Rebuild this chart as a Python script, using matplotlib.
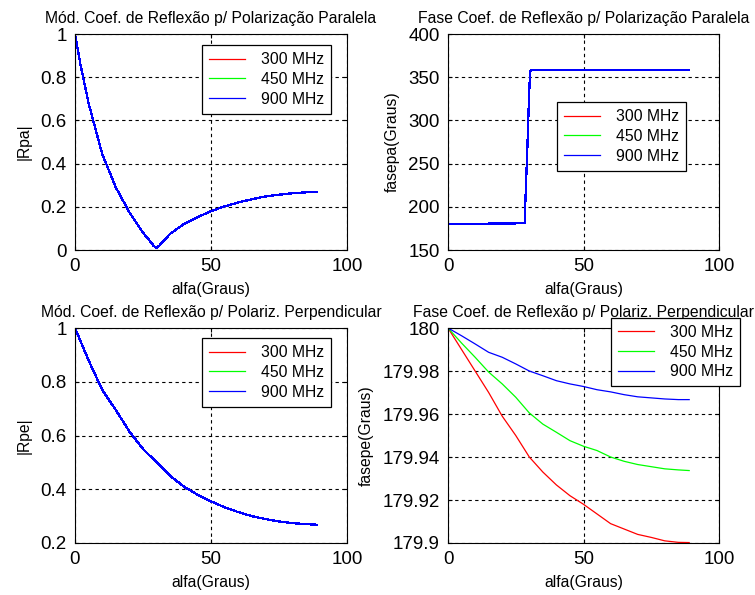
import matplotlib
matplotlib.use("Agg")
import matplotlib.pyplot as plt

plt.rcParams['font.family'] = ['Liberation Sans', 'DejaVu Sans']

freqs = ["300 MHz", "450 MHz", "900 MHz"]
colors = ["#ff0000", "#00ff00", "#0000ff"]

# |Rpa| - the three frequencies overlap
alfa_rpa = [0, 2, 5, 10, 15, 20, 25, 28, 29, 30, 31, 32, 35, 40, 45, 50, 55, 60, 65, 70, 75, 80, 85, 89]
rpa = [1.0, 0.86, 0.68, 0.445, 0.29, 0.175, 0.08, 0.035, 0.018, 0.01, 0.02, 0.035, 0.075, 0.12, 0.152, 0.18, 0.202, 0.22, 0.235, 0.248, 0.256, 0.263, 0.267, 0.268]

# fase Rpa (graus)
alfa_fpa = [0, 10, 20, 28.3, 28.6, 29.3, 29.9, 30.3, 31, 40, 50, 60, 70, 80, 89]
fpa = [180.5, 180.5, 180.6, 181, 211, 270, 328, 357, 358.7, 358.7, 358.7, 358.7, 358.7, 358.7, 358.7]

# |Rpe|
alfa_rpe = [0, 5, 10, 15, 20, 25, 30, 35, 40, 45, 50, 55, 60, 65, 70, 75, 80, 85, 89]
rpe = [1.0, 0.88, 0.77, 0.695, 0.615, 0.55, 0.5, 0.45, 0.41, 0.38, 0.355, 0.333, 0.315, 0.3, 0.289, 0.28, 0.274, 0.27, 0.268]

# fase Rpe (graus), one curve per frequency
alfa_fpe = [0, 5, 10, 15, 20, 25, 30, 35, 40, 45, 50, 55, 60, 65, 70, 75, 80, 85, 89]
fpe_300 = [180.0, 179.990, 179.980, 179.970, 179.959, 179.950, 179.940, 179.933, 179.927, 179.922,
           179.918, 179.9135, 179.909, 179.9065, 179.904, 179.9026, 179.901, 179.9003, 179.9002]
fpe_450 = [180.0, 179.993, 179.9864, 179.9795, 179.974, 179.9678, 179.9605, 179.9553, 179.9515, 179.9476,
           179.945, 179.943, 179.940, 179.938, 179.9365, 179.9355, 179.9345, 179.934, 179.9337]
fpe_900 = [180.0, 179.9964, 179.9926, 179.9887, 179.9864, 179.9833, 179.980, 179.9778, 179.9755, 179.974,
           179.9728, 179.9713, 179.9703, 179.969, 179.968, 179.9675, 179.967, 179.9667, 179.9667]

fig = plt.figure(figsize=(7.55, 5.95), dpi=100)
ax1 = fig.add_axes([0.0993, 0.5798, 0.3603, 0.3630])
ax2 = fig.add_axes([0.5934, 0.5798, 0.3589, 0.3630])
ax3 = fig.add_axes([0.0993, 0.0874, 0.3603, 0.3613])
ax4 = fig.add_axes([0.5934, 0.0874, 0.3589, 0.3613])

FS = 11.3
TFS = 13.5
LW = 0.9


def style(ax, title, ylabel, yticks, yticklabels, leg_xy):
    ax.set_xlim(0, 100)
    ax.set_xticks([0, 50, 100])
    ax.set_ylim(yticks[0], yticks[-1])
    ax.set_yticks(yticks)
    ax.set_yticklabels(yticklabels)
    ax.grid(True, color='black', linestyle=(0, (3, 3)), linewidth=0.8)
    ax.tick_params(direction='in', length=3, width=0.8, top=True, right=True,
                   labelsize=TFS, pad=6)
    for s in ax.spines.values():
        s.set_linewidth(0.8)
    ax.set_title(title, fontsize=FS, pad=8)
    ax.set_xlabel("alfa(Graus)", fontsize=FS, labelpad=5)
    ax.set_ylabel(ylabel, fontsize=FS, labelpad=6)
    leg = ax.legend(loc='upper left', bbox_to_anchor=leg_xy, borderaxespad=0,
                    fontsize=FS, fancybox=False, framealpha=1, edgecolor='black',
                    handlelength=2.3, handletextpad=1.0, labelspacing=0.3,
                    borderpad=0.45)
    leg.get_frame().set_linewidth(0.9)
    leg.set_zorder(5)


# MATLAB-like aliased lines, so overlapping curves show only the last colour
for f, c in zip(freqs, colors):
    ax1.plot(alfa_rpa, rpa, color=c, linewidth=LW, label=f, antialiased=False)
    ax2.plot(alfa_fpa, fpa, color=c, linewidth=LW, label=f, antialiased=False)
    ax3.plot(alfa_rpe, rpe, color=c, linewidth=LW, label=f, antialiased=False)

for f, c, y in zip(freqs, colors, [fpe_300, fpe_450, fpe_900]):
    ax4.plot(alfa_fpe, y, color=c, linewidth=LW, label=f)

style(ax1, "Mód. Coef. de Reflexão p/ Polarização Paralela", "|Rpa|",
      [0, 0.2, 0.4, 0.6, 0.8, 1.0], ["0", "0.2", "0.4", "0.6", "0.8", "1"], (0.467, 0.949))
style(ax2, "Fase Coef. de Reflexão p/ Polarização Paralela", "fasepa(Graus)",
      [150, 200, 250, 300, 350, 400], ["150", "200", "250", "300", "350", "400"], (0.402, 0.685))
style(ax3, "Mód. Coef. de Reflexão p/ Polariz. Perpendicular", "|Rpe|",
      [0.2, 0.4, 0.6, 0.8, 1.0], ["0.2", "0.4", "0.6", "0.8", "1"], (0.467, 0.953))
style(ax4, "Fase Coef. de Reflexão p/ Polariz. Perpendicular", "fasepe(Graus)",
      [179.9, 179.92, 179.94, 179.96, 179.98, 180.0],
      ["179.9", "179.92", "179.94", "179.96", "179.98", "180"], (0.601, 1.047))

fig.savefig("out.png", dpi=100)
